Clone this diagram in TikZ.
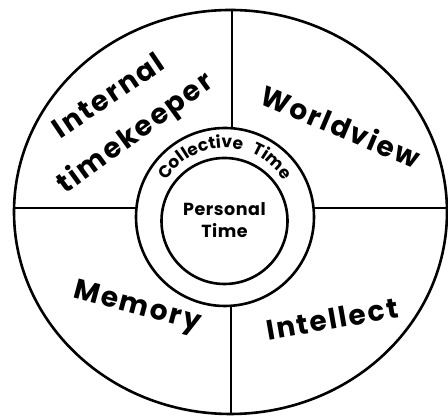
\documentclass[tikz,border=0pt]{standalone}
\usepackage{fontspec}
\setmainfont{Poppins}
\usetikzlibrary{shapes.geometric,decorations.text}
\tikzset{
  ln/.style={line width=2.6pt, black},
  big/.style={font=\bfseries\fontsize{28}{28}\selectfont\addfontfeature{LetterSpace=7}, inner sep=0pt},
  mid/.style={font=\bfseries\fontsize{17.5}{22}\selectfont\addfontfeature{LetterSpace=3}, align=center, inner sep=0pt},
}
\begin{document}
\begin{tikzpicture}[x=1pt,y=1pt]
\useasboundingbox[fill=white] (0,0) rectangle (448,419);
% outer ellipse, ring, inner circle
\node[ln, draw, ellipse, minimum width=433pt, minimum height=404pt, inner sep=0pt] (outer) at (230.5,207) {};
\node[ln, draw, circle, minimum size=178pt, inner sep=0pt] (ring) at (225,202) {};
\node[ln, draw, circle, minimum size=126pt, inner sep=0pt] (inner) at (224.5,198) {};
% helper coordinates for the dividing lines
\coordinate (h) at (0,211);
\coordinate (vt) at (232,0);
\coordinate (vb) at (231,0);
\draw[ln] (outer.west |- h) -- (ring.west |- h);
\draw[ln] (ring.east |- h) -- (outer.east |- h);
\draw[ln] (outer.north -| vt) -- (ring.north -| vt);
\draw[ln] (ring.south -| vb) -- (outer.south -| vb);
% quadrant labels
\node[big, rotate=34] (internal) at (108,324) {Internal};
\node[big, rotate=36] (timek) at (136,285) {timekeeper};
\node[big, rotate=-23] (world) at (341,293) {Worldview};
\node[big, rotate=-15] (memory) at (137,111) {Memory};
\node[big, rotate=10] (intel) at (332,100) {Intellect};
% centre
\node[mid] (personal) at (224.5,199) {Personal\\Time};
\path[decorate, decoration={text along path, text align=center,
  text={|\bfseries\fontsize{17}{17}\selectfont\addfontfeature{LetterSpace=6}|Collective{ }{ }Time}}]
  (ring.center) ++(175:69) arc[start angle=175, end angle=5, radius=69];
\end{tikzpicture}
\end{document}
